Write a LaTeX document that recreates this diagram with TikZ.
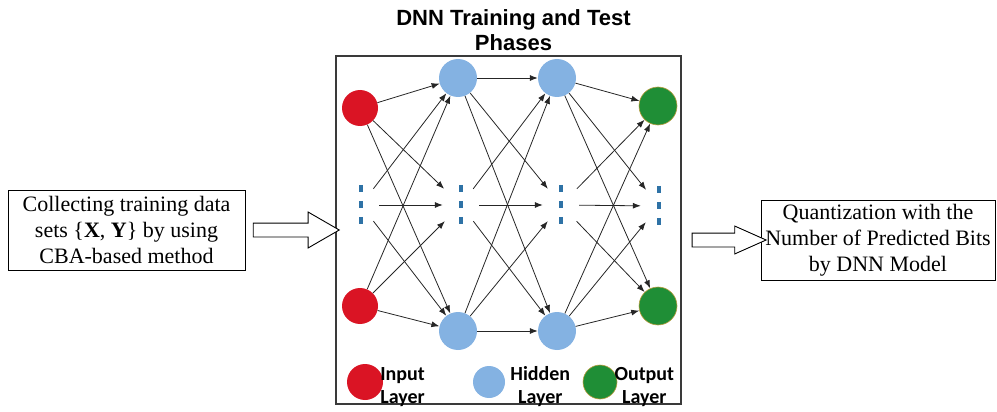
\documentclass[tikz,border=0pt]{standalone}
\usepackage{fontspec}
\setmainfont{Liberation Serif}
\newfontfamily\headfont{Liberation Sans}
\newfontfamily\keyfont{Carlito}
\usetikzlibrary{positioning, shapes.arrows, arrows.meta, calc}
\definecolor{nnred}{HTML}{DA1424}
\definecolor{nnblue}{HTML}{84B2E2}
\definecolor{nngreen}{HTML}{1F8E36}
\definecolor{nnrim}{HTML}{B89C3E}
\definecolor{nndash}{HTML}{2E72A6}
\definecolor{nnframe}{HTML}{3A3A3A}

\begin{document}
\begin{tikzpicture}[x=1pt, y=-1pt,
    unit/.style={circle, inner sep=0pt},
    inunit/.style={unit, fill=nnred, minimum size=36pt},
    hidunit/.style={unit, fill=nnblue, minimum size=38pt},
    outunit/.style={unit, fill=nngreen, draw=nnrim, line width=0.6pt, minimum size=38pt},
    dotcol/.style={rectangle, inner sep=0pt, minimum width=36pt, minimum height=32pt},
    link/.style={-{Latex[length=8pt,width=6pt]}, line width=0.8pt, color=black!85},
    textbox/.style={draw, line width=0.9pt, align=center, inner sep=2pt,
                    minimum height=80pt, font=\fontsize{22}{26}\selectfont},
    hollow/.style={single arrow, draw, line width=0.9pt, fill=white,
                   inner xsep=0pt, inner ysep=6.5pt, minimum width=0pt},
    keytext/.style={align=center, inner sep=0pt,
                    font=\keyfont\bfseries\fontsize{20}{23}\selectfont}]
  \useasboundingbox (0,0) rectangle (997,412);

  % frame of the network
  \node[draw=nnframe, line width=2pt, inner sep=0pt,
        minimum width=345pt, minimum height=348pt] (net) at (508.5,230) {};
  \node[align=center, above=1pt of net, xshift=5pt,
        font=\headfont\bfseries\fontsize{22}{25}\selectfont] (title)
        {DNN Training and Test\\Phases};

  % layers
  \node[inunit] (in1) at (360,108) {};
  \node[inunit] (in2) at (360,306) {};
  \node[hidunit] (ha1) at (458,78) {};
  \node[hidunit] (ha2) at (458,331) {};
  \node[hidunit] (hb1) at (557,78) {};
  \node[hidunit] (hb2) at (557,331) {};
  \node[outunit] (out1) at (658,106) {};
  \node[outunit] (out2) at (658,306) {};
  \node[dotcol] (dots1) at (361,205) {};
  \node[dotcol] (dots2) at (461,205) {};
  \node[dotcol] (dots3) at (561,205) {};
  \node[dotcol] (dots4) at (659,206) {};
  \foreach \d in {dots1,dots2,dots3,dots4}
    \draw[nndash, line width=3.5pt, dash pattern=on 7pt off 9pt]
      ([yshift=4pt]\d.north) -- ([yshift=-4pt]\d.south);

  \foreach \a in {in1,dots1,in2}
    \foreach \b in {ha1,dots2,ha2}
      \draw[link] (\a) -- (\b);
  \foreach \a in {ha1,dots2,ha2}
    \foreach \b in {hb1,dots3,hb2}
      \draw[link] (\a) -- (\b);
  \foreach \a in {hb1,dots3,hb2}
    \foreach \b in {out1,dots4,out2}
      \draw[link] (\a) -- (\b);

  % legend
  \node[inunit] (keyin) at (365,382) {};
  \node[keytext, right=-3pt of keyin, yshift=-5pt] (keyinlbl) {Input\\Layer};
  \node[hidunit, minimum size=32pt] (keyhid) at (489,382) {};
  \node[keytext, right=5pt of keyhid, yshift=-5pt] (keyhidlbl) {Hidden\\Layer};
  \node[outunit, minimum size=34pt] (keyout) at (600,382) {};
  \node[keytext, right=-3pt of keyout, yshift=-5pt] (keyoutlbl) {Output\\Layer};

  % input and output boxes
  \node[textbox, minimum width=237pt] (collect) at (126.5,230)
    {Collecting training data\\sets \{\textbf{X}, \textbf{Y}\} by using\\CBA-based method};
  \node[textbox, minimum width=234pt] (quant) at (878,240)
    {Quantization with the\\Number of Predicted Bits\\by DNN Model};
  \node[hollow, minimum height=86pt, single arrow head extend=11pt,
        single arrow tip angle=60] (feedin) at ($(collect.east)!0.5!(net.west)$) {};
  \node[hollow, minimum height=74pt, single arrow head extend=7pt,
        single arrow tip angle=48] (feedout) at ($(net.east |- quant.west)!0.5!(quant.west)$) {};
\end{tikzpicture}
\end{document}
